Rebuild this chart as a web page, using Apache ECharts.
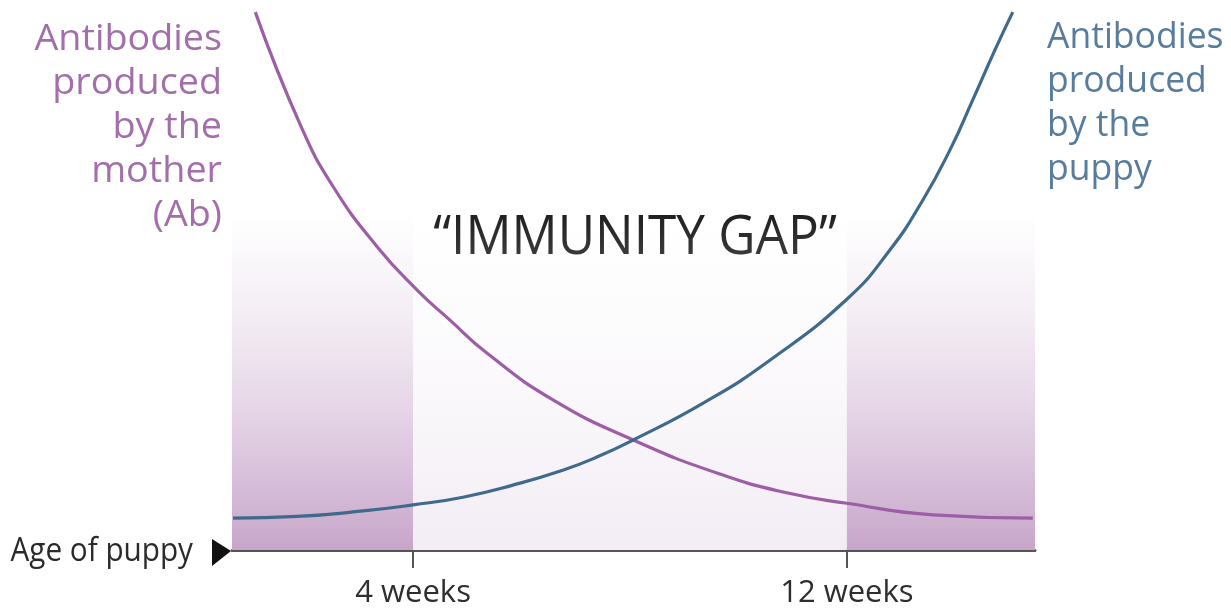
<!DOCTYPE html>
<html>
<head>
<meta charset="utf-8">
<script src="https://cdn.jsdelivr.net/npm/echarts@6/dist/echarts.min.js"></script>
<style>
  html, body { margin: 0; padding: 0; background: #fff; }
  #chart { width: 1231px; height: 612px; }
</style>
</head>
<body>
<div id="chart"></div>
<script>
// age in weeks / relative antibody level (0-100)
var motherWeeks = [1.09, 1.92, 2.53, 3.34, 4.07, 4.68, 5.36, 6.58, 8.06, 9.66, 10.89, 12.0, 13.59, 15.43];
var motherLevel = [97.8, 77.3, 66.0, 55.1, 47.3, 41.8, 35.8, 27.3, 20.0, 13.8, 10.4, 8.5, 6.4, 5.8];
var puppyWeeks = [0.68, 1.86, 3.08, 4.0, 4.92, 5.84, 6.76, 7.39, 8.06, 9.35, 10.58, 12.0, 12.79, 13.40, 13.90, 14.32, 14.73, 15.06];
var puppyLevel = [5.8, 6.1, 7.1, 8.2, 9.6, 11.8, 14.5, 16.9, 20.0, 26.7, 34.5, 45.6, 54.5, 63.6, 72.7, 81.8, 90.9, 97.8];
var tickWeeks = [4, 12];
var ageMin = 0.66, ageMax = 15.47;
var shadeTop = 61.5;

function zip(a, b) {
  return a.map(function (v, i) { return [v, b[i]]; });
}

var chart = echarts.init(document.getElementById('chart'), null, { renderer: 'canvas' });

function fade(c0, c1) {
  return new echarts.graphic.LinearGradient(0, 0, 0, 1, [
    { offset: 0, color: c0 },
    { offset: 1, color: c1 }
  ]);
}

var font = '"Open Sans", sans-serif';

var option = {
  backgroundColor: '#ffffff',
  animation: false,
  grid: { left: 232, top: 0, width: 803, height: 550, containLabel: false },
  xAxis: {
    type: 'value',
    min: ageMin,
    max: ageMax,
    axisLine: { show: true, lineStyle: { color: '#555', width: 3 } },
    axisTick: { show: true, customValues: tickWeeks, length: 18, lineStyle: { color: '#555', width: 2 } },
    axisLabel: {
      customValues: tickWeeks,
      formatter: function (v) { return v + ' weeks'; },
      fontFamily: font, fontSize: 31, color: '#2e2e2e', margin: 28
    },
    splitLine: { show: false }
  },
  yAxis: { type: 'value', min: 0, max: 100, show: false },
  series: [
    {
      name: 'Antibodies produced by the mother (Ab)',
      type: 'line',
      data: zip(motherWeeks, motherLevel),
      smooth: 0.5,
      symbol: 'none',
      z: 3,
      lineStyle: { color: '#9c5ea5', width: 3.2 },
      markArea: {
        silent: true,
        data: [
          [{ xAxis: ageMin, yAxis: 0, itemStyle: { color: fade('rgba(226,208,228,0)', '#c7a5ca') } }, { xAxis: tickWeeks[0], yAxis: shadeTop }],
          [{ xAxis: tickWeeks[0], yAxis: 0, itemStyle: { color: fade('rgba(250,248,251,0)', '#f2ecf4') } }, { xAxis: tickWeeks[1], yAxis: shadeTop }],
          [{ xAxis: tickWeeks[1], yAxis: 0, itemStyle: { color: fade('rgba(226,208,228,0)', '#c7a5ca') } }, { xAxis: ageMax, yAxis: shadeTop }]
        ]
      }
    },
    {
      name: 'Antibodies produced by the puppy',
      type: 'line',
      data: zip(puppyWeeks, puppyLevel),
      smooth: 0.5,
      symbol: 'none',
      z: 3,
      lineStyle: { color: '#3f6a8b', width: 3.2 }
    }
  ],
  graphic: [
    {
      type: 'text', x: 222, y: 17, scaleX: 1.02,
      style: {
        text: 'Antibodies\nproduced\nby the\nmother\n(Ab)',
        fontFamily: font, fontSize: 37, lineHeight: 44,
        fill: '#a26fab', align: 'right', verticalAlign: 'top'
      }
    },
    {
      type: 'text', x: 1047, y: 15, scaleX: 0.96,
      style: {
        text: 'Antibodies\nproduced\nby the\npuppy',
        fontFamily: font, fontSize: 37, lineHeight: 44,
        fill: '#577c9d', align: 'left', verticalAlign: 'top'
      }
    },
    {
      type: 'text', x: 635, y: 239, scaleX: 0.95,
      style: {
        text: '\u201CIMMUNITY GAP\u201D',
        fontFamily: font, fontSize: 54,
        fill: '#1e1e1e', align: 'center', verticalAlign: 'middle'
      }
    },
    {
      type: 'text', x: 193, y: 552, scaleX: 0.9,
      style: {
        text: 'Age of puppy',
        fontFamily: font, fontSize: 33,
        fill: '#2a2a2a', align: 'right', verticalAlign: 'middle'
      }
    },
    {
      type: 'polygon',
      shape: { points: [[212, 539], [231, 551], [212, 566]] },
      style: { fill: '#111' }
    }
  ]
};

chart.setOption(option);
</script>
</body>
</html>
